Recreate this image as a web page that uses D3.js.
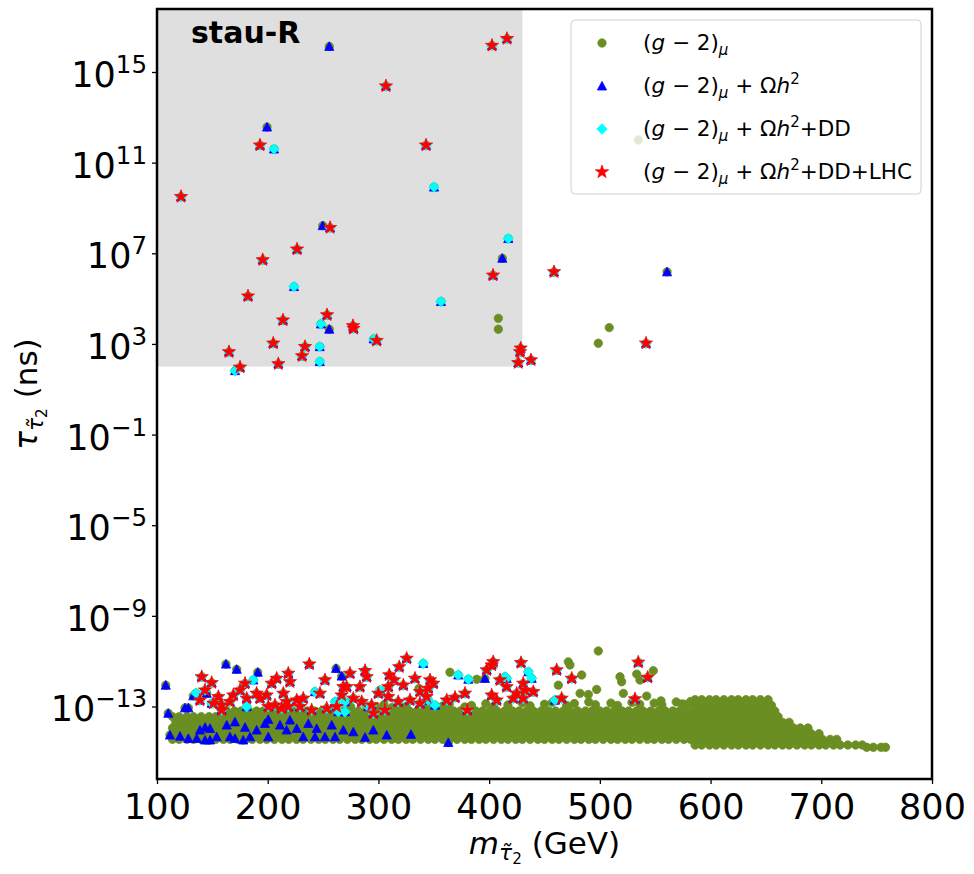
<!DOCTYPE html>
<html>
<head>
<meta charset="utf-8">
<script src="https://cdn.jsdelivr.net/npm/d3@7"></script>
<style>
  body { margin: 0; background: #fff; }
  svg { display: block; font-family: "DejaVu Sans", sans-serif; }
  text { white-space: pre; }
</style>
</head>
<body>
<script>
// axis ticks
const massTicks = [100, 200, 300, 400, 500, 600, 700, 800];
const tauTickExps = [15, 11, 7, 3, -1, -5, -9, -13];

// shaded "stau-R" region: m < 430 GeV and tau > 100 ns
const shadeMassMax = 430;
const shadeTauMin = 100;

// points are [m_stau2 (GeV), log10(tau / ns)]
// each set only holds the points that first appear at that cut level;
// (g-2) contains all, +Omega contains blue+cyan+red, and so on

// dense (g-2) band, read row by row
const massGridA = [114,120,127,133,140,147,153,160,166,173,180,186,193,199,206,213,219,226,232,239,246,252,259,265,272,279,285,292,298,305,312,318,325,331,338,345,351,358,364,371,378,384,391,397,404,411,417,424,430,437,444,450,457,463,470,477,483,490,496,503,510,516,523,529,536,543,549,556,562,569,576,582,589,595,602,609,615,622,628,635,642,648,655,661,668,675,681,688,694,701,708,714,721,727,734,741,747,754,758];
const massGridB = [117,124,130,137,143,150,157,163,170,176,183,190,196,203,209,216,223,229,236,242,249,256,262,269,275,282,289,295,302,308,315,322,328,335,341,348,355,361,368,374,381,388,394,401,407,414,421,427,434,440,447,454,460,467,473,480,487,493,500,506,513,520,526,533,539,546,553,559,566,572,579,586,592,599,605,612,619,625,632,638,645,652,658,665,671,678,685,691,698,704,711,717,724,731,737,744,751];
// [log10 tau, grid, mass from, mass to]
const bandRows = [
  [-14.80, "A", 741, 758],
  [-14.70, "B", 586, 738],
  [-14.45, "A", 114, 716],
  [-14.20, "B", 117, 703],
  [-13.95, "A", 114, 690],
  [-13.70, "B", 117, 676],
  [-13.45, "A", 114, 666],
  [-13.20, "B", 163, 658],
  [-12.95, "A", 586, 655],
  [-12.70, "B", 586, 652]
];
// ragged upper edge of the band
const bandEdge = [
  [298, -13.00], [305, -12.92], [312, -13.05], [318, -12.95], [325, -13.00], [338, -12.90],
  [345, -13.05], [358, -12.98], [364, -12.90], [378, -13.02], [384, -12.95], [397, -12.88],
  [404, -13.00], [417, -12.93], [430, -12.85], [437, -12.97], [450, -12.90], [457, -12.82],
  [470, -12.95], [477, -12.87], [490, -12.80], [496, -12.92], [510, -12.85], [516, -12.95],
  [529, -12.82], [536, -12.90], [549, -12.85], [556, -12.93], [569, -12.80], [576, -12.90],
  [582, -12.78], [262, -12.98], [275, -13.02], [289, -12.97]
];

const g2Only = [
  [408.3, 4.13], [408.3, 3.65], [508.5, 3.72], [498.6, 3.03], [534.7, 12.0],
  [364.6, -11.49], [388.8, -11.80], [336.6, -12.20], [498.6, -10.55], [471.5, -11.03],
  [473.0, -11.17], [483.6, -11.61], [462.5, -12.06], [482.1, -12.42], [489.6, -12.47],
  [497.1, -12.25], [518.2, -11.69], [519.7, -11.91], [533.3, -11.57], [536.2, -11.83],
  [548.3, -11.42], [521.2, -12.42], [542.3, -12.54], [461.0, -12.72], [555.2, -12.75],
  [573.9, -12.89], [582.9, -12.89]
];

const omegaOnly = [
  [255.6, 16.13], [199.4, 12.57], [249.7, 8.22], [411.9, 6.78], [255.6, 3.65], [560.7, 6.18],
  [162.3, -11.13], [172.0, -11.36], [191.0, -11.49], [107.9, -12.06], [110.2, -13.30],
  [125.3, -13.06], [128.3, -13.06], [132.8, -12.53], [144.9, -12.42], [261.7, -11.32],
  [266.8, -11.66], [396.2, -11.76],
  [120.8, -14.31], [128.3, -14.41], [138.8, -14.04], [143.4, -13.92], [147.9, -13.97],
  [153.9, -14.34], [163.0, -13.82], [165.9, -14.34], [170.4, -13.68], [179.5, -13.92],
  [184.0, -14.34], [190.0, -14.04], [197.5, -13.75], [200.5, -13.57], [200.5, -14.34],
  [211.1, -13.82], [217.1, -14.04], [220.1, -13.60], [226.2, -13.97], [232.1, -14.34],
  [236.7, -13.75], [242.7, -14.34], [244.2, -13.97], [257.8, -13.82], [260.8, -14.34],
  [268.3, -14.04], [251.7, -14.34], [143.4, -14.48], [170.4, -14.41], [135.9, -14.41],
  [147.9, -14.48], [177.9, -14.48], [277.3, -14.12], [287.9, -14.36], [295.4, -14.04],
  [307.5, -14.26], [329.4, -14.23], [363.1, -14.59], [111.7, -14.26]
];

const ddOnly = [
  [205.7, 11.60], [350.2, 9.92], [417.3, 7.65], [223.7, 5.53], [356.5, 4.87],
  [248.1, 3.88], [247.0, 2.88], [247.0, 2.22], [170.5, 1.82], [295.7, 3.22],
  [187.0, -11.83], [181.0, -13.01], [149.4, -12.86], [242.7, -12.35], [260.8, -12.79],
  [263.8, -13.23], [269.8, -12.79], [340.5, -11.10], [372.1, -11.61], [381.2, -11.80],
  [435.4, -11.47], [438.4, -11.76], [269.8, -13.23], [290.8, -13.01], [345.0, -12.72],
  [351.1, -12.94], [414.3, -11.69], [301.4, -12.28], [459.5, -12.72], [415.8, -11.76],
  [135.2, -12.41]
];

const lhcPoints = [
  [121.7, 9.50], [193.0, 11.77], [306.8, 14.38], [343.0, 11.77], [402.6, 16.17],
  [416.1, 16.47], [256.3, 8.13], [226.5, 7.18], [195.5, 6.71], [182.2, 5.11],
  [213.8, 4.05], [253.6, 4.28], [277.0, 3.80], [277.5, 3.68], [205.0, 3.03],
  [233.7, 2.88], [231.0, 2.47], [298.4, 3.15], [165.0, 2.65], [175.0, 1.97],
  [209.6, 2.12], [403.5, 6.03], [428.5, 2.81], [427.9, 2.65], [426.3, 2.17],
  [437.8, 2.29], [458.6, 6.18], [541.7, 3.03],
  [140.4, -11.69], [149.4, -11.95], [179.5, -11.98], [237.6, -11.13], [251.7, -11.83],
  [218.6, -11.54], [208.1, -11.76], [203.6, -11.98], [220.1, -11.91], [190.0, -12.42],
  [168.9, -12.50], [155.4, -12.57], [158.4, -12.94], [165.9, -12.79], [193.0, -12.64],
  [199.1, -12.50], [214.1, -12.42], [217.1, -12.79], [226.2, -12.72], [232.1, -12.64],
  [206.6, -12.94], [212.6, -13.08], [218.6, -13.01], [239.7, -13.16], [247.2, -12.42],
  [253.3, -13.08], [268.3, -12.13], [266.8, -12.50], [262.3, -13.01], [175.0, -12.28],
  [150.9, -12.86], [158.4, -13.16], [229.2, -13.01], [200.5, -13.01], [181.0, -12.64],
  [138.8, -12.72], [143.4, -12.28],
  [325.5, -10.88], [318.8, -11.25], [274.3, -11.54], [287.9, -11.42], [289.4, -11.69],
  [309.8, -11.61], [314.1, -11.83], [333.0, -11.76], [346.6, -11.83], [349.6, -11.98],
  [271.3, -12.13], [283.3, -12.13], [308.9, -12.13], [322.5, -12.06], [337.5, -12.35],
  [345.0, -12.20], [299.9, -12.42], [308.9, -12.57], [277.3, -12.64], [284.9, -12.79],
  [293.9, -12.94], [305.9, -13.16], [295.4, -13.30], [317.9, -12.79], [328.5, -12.72],
  [337.5, -12.86], [343.6, -12.57], [361.7, -12.72], [369.2, -12.60], [378.2, -12.42],
  [380.3, -13.16], [402.3, -11.17], [403.7, -11.03], [397.8, -11.39], [428.8, -11.07],
  [409.8, -11.83], [415.8, -12.13], [430.8, -11.98], [432.4, -12.28], [424.9, -12.42],
  [439.9, -12.35], [402.3, -12.50], [406.8, -12.72], [421.8, -12.64], [430.8, -12.64],
  [461.0, -11.39], [474.6, -11.76], [465.5, -12.64], [534.7, -11.05], [543.2, -11.72],
  [531.7, -12.67]
];

const W = 974, H = 874;
const margin = {top: 9, right: 42, bottom: 95, left: 157};

const svg = d3.select("body").append("svg")
    .attr("width", W)
    .attr("height", H);

const x = d3.scaleLinear().domain([100, 800]).range([margin.left, W - margin.right]);
const y = d3.scaleLog().domain([Math.pow(10, -16.2), Math.pow(10, 17.78)]).range([H - margin.bottom, margin.top]);

const px = d => x(d[0]);
const py = d => y(Math.pow(10, d[1]));

// expand the band rows into points
const grids = {A: massGridA, B: massGridB};
const bandPoints = [];
bandRows.forEach(([lt, g, lo, hi]) => {
    grids[g].filter(m => m >= lo && m <= hi).forEach(m => bandPoints.push([m, lt]));
});

const seriesG2 = bandPoints.concat(bandEdge, g2Only, omegaOnly, ddOnly, lhcPoints);
const seriesOmega = omegaOnly.concat(ddOnly, lhcPoints);
const seriesDD = ddOnly.concat(lhcPoints);
const seriesLHC = lhcPoints;

// marker shapes (matplotlib-like)
const circlePath = d3.symbol(d3.symbolCircle, 55)();
const trianglePath = "M0,-4.6L4.6,4L-4.6,4Z";
const diamondPath = "M0,-5.2L5.2,0L0,5.2L-5.2,0Z";
const starPath = d3.symbol(d3.symbolStar, 54)();

const series = [
    {data: seriesG2, color: "#6b8e23", path: circlePath},
    {data: seriesOmega, color: "#0000ff", path: trianglePath},
    {data: seriesDD, color: "#00ffff", path: diamondPath},
    {data: seriesLHC, color: "#ff0000", path: starPath}
];

svg.append("clipPath").attr("id", "plotclip")
  .append("rect")
    .attr("x", margin.left).attr("y", margin.top)
    .attr("width", W - margin.left - margin.right)
    .attr("height", H - margin.top - margin.bottom);

// shaded region
svg.append("rect")
    .attr("x", x(100))
    .attr("y", margin.top)
    .attr("width", x(shadeMassMax) - x(100))
    .attr("height", y(shadeTauMin) - margin.top)
    .attr("fill", "gray")
    .attr("fill-opacity", 0.25);

svg.append("text")
    .attr("x", 191)
    .attr("y", 43)
    .attr("font-size", 30)
    .attr("font-weight", "bold")
    .text("stau-R");

const plot = svg.append("g").attr("clip-path", "url(#plotclip)");

series.forEach(s => {
    plot.append("g").selectAll("path")
      .data(s.data)
      .enter().append("path")
        .attr("d", s.path)
        .attr("transform", d => `translate(${px(d)},${py(d)})`)
        .attr("fill", s.color)
        .attr("stroke", s.color)
        .attr("stroke-width", 0.8);
});

// axes
const xAxis = d3.axisBottom(x).tickValues(massTicks).tickSize(5).tickPadding(6).tickFormat(d3.format("d"));
const gx = svg.append("g")
    .attr("transform", `translate(0,${H - margin.bottom})`)
    .call(xAxis);
gx.select(".domain").remove();
gx.selectAll("line").attr("stroke-width", 1.3);
gx.selectAll("text")
    .attr("font-size", 35)
    .attr("font-family", "DejaVu Sans")
    .attr("dy", null)
    .attr("y", 40);

const yAxis = d3.axisLeft(y).tickValues(tauTickExps.map(e => Math.pow(10, e))).tickSize(5).tickFormat("");
const gy = svg.append("g")
    .attr("transform", `translate(${margin.left},0)`)
    .call(yAxis);
gy.select(".domain").remove();
gy.selectAll("line").attr("stroke-width", 1.3);

// y tick labels as 10^n
const yLab = svg.append("g").selectAll("text")
  .data(tauTickExps)
  .enter().append("text")
    .attr("x", 147)
    .attr("y", e => y(Math.pow(10, e)) + 15)
    .attr("text-anchor", "end")
    .attr("font-size", 35);
yLab.append("tspan").text("10");
yLab.append("tspan")
    .attr("dy", -14)
    .attr("font-size", 24.5)
    .text(e => (e < 0 ? "\u2212" : "") + Math.abs(e));

// frame
svg.append("rect")
    .attr("x", margin.left)
    .attr("y", margin.top)
    .attr("width", W - margin.left - margin.right)
    .attr("height", H - margin.top - margin.bottom)
    .attr("fill", "none")
    .attr("stroke", "#000")
    .attr("stroke-width", 2.5);

// simple mathtext helper: parts {t, i (italic), s: 0 normal / 1 script / 2 script-script, off}
function mathText(sel, parts, size) {
    let cur = 0;
    parts.forEach(p => {
        const lvl = p.s || 0;
        const off = p.off || 0;
        const ts = sel.append("tspan")
            .attr("dy", off - cur)
            .attr("font-size", size * Math.pow(0.7, lvl))
            .text(p.t);
        if (p.i) ts.attr("font-style", "italic");
        cur = off;
    });
}

// axis labels
const xl = svg.append("text")
    .attr("x", (margin.left + W - margin.right) / 2)
    .attr("y", 854)
    .attr("text-anchor", "middle");
mathText(xl, [
    {t: "m", i: true},
    {t: "\u03C4\u0303", i: true, s: 1, off: 6},
    {t: "2", s: 2, off: 10},
    {t: " (GeV)", off: 0}
], 31);

const yl = svg.append("text")
    .attr("transform", `translate(37,${(margin.top + H - margin.bottom) / 2}) rotate(-90)`)
    .attr("text-anchor", "middle");
mathText(yl, [
    {t: "\u03C4", i: true},
    {t: "\u03C4\u0303", i: true, s: 1, off: 6},
    {t: "2", s: 2, off: 10},
    {t: " (ns)", off: 0}
], 31);

// legend
const legendLabels = [
    [{t: "("}, {t: "g", i: true}, {t: " \u2212 2)"}, {t: "\u03BC", i: true, s: 1, off: 5}],
    [{t: "("}, {t: "g", i: true}, {t: " \u2212 2)"}, {t: "\u03BC", i: true, s: 1, off: 5}, {t: " + \u03A9", off: 0}, {t: "h", i: true}, {t: "2", s: 1, off: -9}],
    [{t: "("}, {t: "g", i: true}, {t: " \u2212 2)"}, {t: "\u03BC", i: true, s: 1, off: 5}, {t: " + \u03A9", off: 0}, {t: "h", i: true}, {t: "2", s: 1, off: -9}, {t: "+DD", off: 0}],
    [{t: "("}, {t: "g", i: true}, {t: " \u2212 2)"}, {t: "\u03BC", i: true, s: 1, off: 5}, {t: " + \u03A9", off: 0}, {t: "h", i: true}, {t: "2", s: 1, off: -9}, {t: "+DD+LHC", off: 0}]
];

const legend = svg.append("g");
legend.append("rect")
    .attr("x", 571).attr("y", 20)
    .attr("width", 350).attr("height", 174)
    .attr("rx", 4)
    .attr("fill", "#fff")
    .attr("fill-opacity", 0.8)
    .attr("stroke", "#d0d0d0")
    .attr("stroke-width", 1);

series.forEach((s, i) => {
    const cy = 43 + i * 43;
    legend.append("path")
        .attr("d", s.path)
        .attr("transform", `translate(602,${cy})`)
        .attr("fill", s.color)
        .attr("stroke", s.color)
        .attr("stroke-width", 0.8);
    const t = legend.append("text")
        .attr("x", 643)
        .attr("y", cy + 7)
        .attr("font-size", 21.5);
    mathText(t, legendLabels[i], 21.5);
});
</script>
</body>
</html>
